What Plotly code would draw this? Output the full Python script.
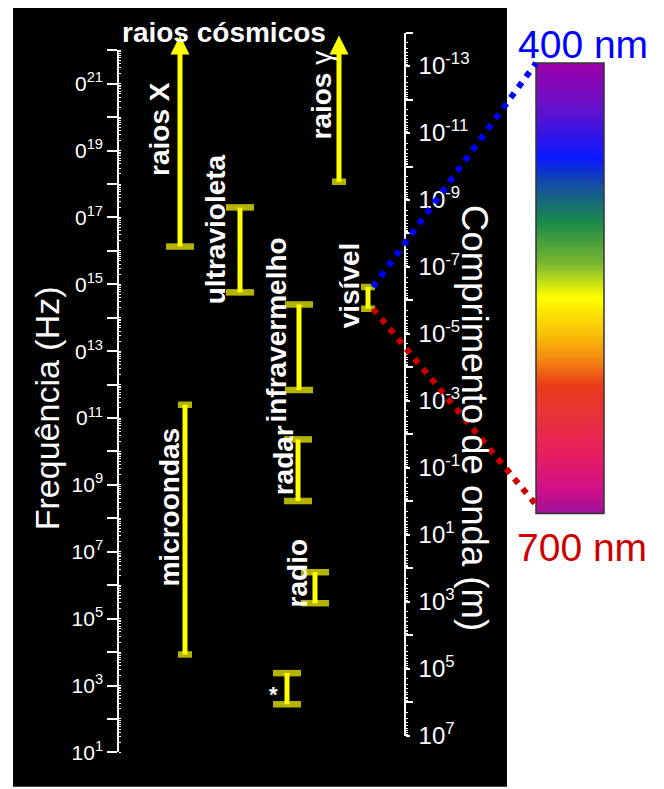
import math
import plotly.graph_objects as go

# page is rendered with an 8 px body margin: the figure is shifted by it
OX, OY = 8, 8
W, H = 656, 781

# ---------------- data (frequencies in Hz) ----------------
bands = ["raios X", "raios γ", "ultravioleta", "visível", "infravermelho",
         "radar", "radio", "*", "microondas"]
f_low = [1.35e16, 1.17e18, 5.75e14, 1.86e14, 6.9e11, 3.3e8, 2.9e5, 2.75e2, 8.5e3]
f_high = [1e22, 1e22, 2.0e17, 8.3e14, 2.5e14, 2.3e10, 2.45e6, 2.35e3, 2.5e11]
open_top = [True, True, False, False, False, False, False, False, False]
arrow_tip = [2.75e22, 2.75e22, None, None, None, None, None, None, None]

freq_tick_vals = [10.0 ** n for n in range(1, 23)]
freq_tick_text = ["10<sup>1</sup>", "", "10<sup>3</sup>", "", "10<sup>5</sup>", "",
                  "10<sup>7</sup>", "", "10<sup>9</sup>", "", "0<sup>11</sup>", "",
                  "0<sup>13</sup>", "", "0<sup>15</sup>", "", "0<sup>17</sup>", "",
                  "0<sup>19</sup>", "", "0<sup>21</sup>", ""]

wl_label_vals = [1e-13, 1e-11, 1e-9, 1e-7, 1e-5, 1e-3, 1e-1, 1e1, 1e3, 1e5, 1e7]
wl_label_text = ["10<sup>-13</sup>", "10<sup>-11</sup>", "10<sup>-9</sup>", "10<sup>-7</sup>",
                 "10<sup>-5</sup>", "10<sup>-3</sup>", "10<sup>-1</sup>", "10<sup>1</sup>",
                 "10<sup>3</sup>", "10<sup>5</sup>", "10<sup>7</sup>"]
wl_long_vals = [1e-14, 1e-12, 1e-10, 1e-8, 1e-6, 1e-4, 1e-2, 1e0, 1e2, 1e4, 1e6]

spectrum_nm = [400, 427, 463, 481, 505, 533, 556, 580, 595, 615, 638, 660, 684, 700]
spectrum_colors = ["#9a00a8", "#6a10c8", "#0a1aff", "#1450a0", "#1a8a4a", "#7ab830",
                   "#ffff00", "#f8c008", "#f59010", "#e83a1a", "#e83040", "#e81e60",
                   "#d0108a", "#a0109a"]

# ---------------- layout positions (page pixels) ----------------
x_pos = {"raios X": 180, "raios γ": 339, "ultravioleta": 240, "visível": 368,
         "infravermelho": 299, "radar": 298, "radio": 315, "*": 287, "microondas": 185}
cap_w = {"raios X": 20, "raios γ": 10, "ultravioleta": 20, "visível": 10,
         "infravermelho": 20, "radar": 20, "radio": 20, "*": 20, "microondas": 10}

FONT = "Liberation Sans, Arial, sans-serif"
NARROW = "Liberation Sans Narrow, Arial Narrow, Liberation Sans, sans-serif"
YEL = "#ffff00"

Y_TOP, Y_BOT = 51, 765          # page-pixel extent of frequency axis (1e22 .. 1e1)
PX_PER_DEC = (Y_BOT - Y_TOP) / 21
Y_EXT_TOP = 20                   # extended (hidden) frequency axis for the arrow heads


def px(x):
    return (x - OX) / W


def py(y):
    return 1 - (y - OY) / H


def xd(x):                      # page pixel -> x data (x axis is in figure pixels)
    return x - OX


def f_to_px(f):
    return Y_BOT - (math.log10(f) - 1) * PX_PER_DEC


fig = go.Figure()

# shafts
for b, lo, hi in zip(bands, f_low, f_high):
    fig.add_trace(go.Scatter(x=[xd(x_pos[b])] * 2, y=[lo, hi], mode="lines",
                             line=dict(color=YEL, width=5), hoverinfo="skip",
                             showlegend=False))

# caps
cx, cy, cs = [], [], []
for b, lo, hi, op in zip(bands, f_low, f_high, open_top):
    cx.append(xd(x_pos[b])); cy.append(lo); cs.append(cap_w[b])
    if not op:
        cx.append(xd(x_pos[b])); cy.append(hi); cs.append(cap_w[b])
fig.add_trace(go.Scatter(x=cx, y=cy, mode="markers",
                         marker=dict(symbol="line-ew", size=cs, color=YEL,
                                     line=dict(color=YEL, width=6.5)),
                         hoverinfo="skip", showlegend=False))

# arrow heads (on a hidden frequency axis with the same scale, extended upwards)
ax_, ay_ = [], []
for b, tip in zip(bands, arrow_tip):
    if tip is not None:
        ax_.append(xd(x_pos[b])); ay_.append(tip)
fig.add_trace(go.Scatter(x=ax_, y=ay_, yaxis="y4", mode="markers",
                         marker=dict(symbol="arrow-up", size=19, color=YEL,
                                     line=dict(width=0)),
                         hoverinfo="skip", showlegend=False))

# dummy traces for the wavelength axes
for ya in ("y2", "y5"):
    fig.add_trace(go.Scatter(x=[-100], y=[1e-6], yaxis=ya, mode="markers",
                             marker=dict(opacity=0), hoverinfo="skip", showlegend=False))

# visible spectrum bar
fig.add_trace(go.Heatmap(x=[0, 1], y=spectrum_nm, z=[[v, v] for v in spectrum_nm],
                         xaxis="x3", yaxis="y3", zmin=400, zmax=700, zsmooth="best",
                         colorscale=[[(v - 400) / 300, c] for v, c in zip(spectrum_nm, spectrum_colors)],
                         showscale=False, hoverinfo="skip"))

shapes = [
    dict(type="rect", xref="paper", yref="paper", x0=px(13), x1=px(507), y0=py(800), y1=py(7),
         fillcolor="black", line=dict(width=0), layer="below"),
    dict(type="rect", xref="paper", yref="paper", x0=px(536), x1=px(604), y0=py(522), y1=py(64),
         line=dict(color="#333333", width=1.5), layer="above"),
]
vis = bands.index("visível")
x_start = x_pos["visível"] + cap_w["visível"] / 2
shapes.append(dict(type="line", xref="paper", yref="paper",
                   x0=px(x_start), y0=py(f_to_px(f_high[vis])), x1=px(536), y1=py(64),
                   line=dict(color="#0000ff", width=6, dash="6px,7px"), layer="above"))
shapes.append(dict(type="line", xref="paper", yref="paper",
                   x0=px(x_start), y0=py(f_to_px(f_low[vis])), x1=px(536), y1=py(513),
                   line=dict(color="#cc0000", width=6, dash="6px,7px"), layer="above"))

ann = []


def label(text, x, y, size=28, angle=-90, color="white", bold=True, family=FONT):
    ann.append(dict(text=("<b>%s</b>" % text) if bold else text, x=px(x), y=py(y),
                    xref="paper", yref="paper", showarrow=False, textangle=angle,
                    xanchor="center", yanchor="middle",
                    font=dict(size=size, color=color, family=family)))


label("raios cósmicos", 224, 33, angle=0)
label("raios X", 160, 131)
label("<b>raios</b> γ", 322, 97, bold=False)
label("ultravioleta", 215, 233)
label("infravermelho", 277, 336)
label("visível", 349, 290)
label("radar", 283, 468)
label("microondas", 170, 516)
label("radio", 297, 583)
label("*", 273, 706, angle=0, size=22)
label("Frequência (Hz)", 47, 415, size=34, bold=False)
label("Comprimento de onda (m)", 475, 425, size=36.5, angle=90, bold=False)
label("400 nm", 583, 45, size=39, angle=0, color="#0000ff", bold=False)
label("700 nm", 582, 557, size=39, angle=0, color="#cc0000", bold=False)

wl_common = dict(type="log", range=[7, -14], domain=[py(748), py(33)],
                 anchor="free", position=px(405), side="right",
                 showgrid=False, zeroline=False, fixedrange=True)

fig.update_layout(
    width=W, height=H, autosize=False,
    margin=dict(l=0, r=0, t=0, b=0),
    paper_bgcolor="white", plot_bgcolor="rgba(0,0,0,0)",
    showlegend=False,
    xaxis=dict(range=[0, W], domain=[0, 1], visible=False, fixedrange=True),
    yaxis=dict(type="log", range=[1, 22], domain=[py(Y_BOT), py(Y_TOP)],
               anchor="free", position=px(118), side="left",
               showline=True, linecolor="white", linewidth=1.5,
               ticks="outside", ticklen=10, tickwidth=1.5, tickcolor="white",
               tickmode="array", tickvals=freq_tick_vals, ticktext=freq_tick_text,
               tickfont=dict(color="white", size=21, family=FONT),
               showgrid=False, zeroline=False, fixedrange=True,
               minor=dict(ticks="inside", ticklen=2, tickcolor="white", tickwidth=1,
                          dtick="D1", showgrid=False)),
    yaxis4=dict(type="log", range=[1, 1 + (Y_BOT - Y_EXT_TOP) / PX_PER_DEC],
                domain=[py(Y_BOT), py(Y_EXT_TOP)], anchor="free", position=px(118),
                visible=False, fixedrange=True),
    yaxis2=dict(**wl_common,
                showline=True, linecolor="white", linewidth=1.5,
                ticks="outside", ticklen=4, tickwidth=1.5, tickcolor="white",
                tickmode="array", tickvals=wl_label_vals, ticktext=wl_label_text,
                tickfont=dict(color="white", size=24, family=NARROW),
                ticklabelstandoff=4,
                minor=dict(tickmode="array", tickvals=wl_long_vals, ticks="outside",
                           ticklen=7, tickcolor="white", tickwidth=1.5, showgrid=False)),
    yaxis5=dict(**wl_common, showline=False, ticks="", showticklabels=False,
                tickmode="array", tickvals=[],
                minor=dict(ticks="outside", ticklen=2, tickcolor="white", tickwidth=1,
                           dtick="D1", showgrid=False)),
    xaxis3=dict(domain=[px(536), px(604)], range=[-0.5, 1.5], visible=False,
                anchor="y3", fixedrange=True),
    yaxis3=dict(domain=[py(522), py(64)], range=[700, 400], visible=False,
                anchor="x3", fixedrange=True),
    shapes=shapes,
    annotations=ann,
)

fig.write_html("out.html")
